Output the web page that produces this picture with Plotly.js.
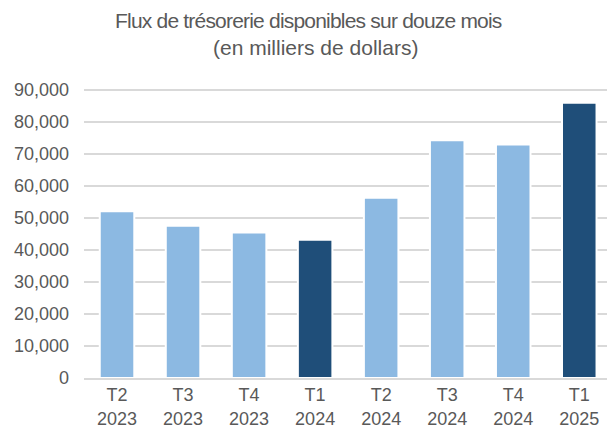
<!DOCTYPE html>
<html>
<head>
<meta charset="utf-8">
<script src="https://cdn.plot.ly/plotly-3.0.1.min.js"></script>
<style>
  html, body { margin: 0; padding: 0; background: #ffffff; overflow: hidden; }
  #chart { width: 607px; height: 426px; }
</style>
</head>
<body>
<div id="chart"></div>
<script>
// ---- data ----
const quarters = ["T2", "T3", "T4", "T1", "T2", "T3", "T4", "T1"];
const years = ["2023", "2023", "2023", "2024", "2024", "2024", "2024", "2025"];
const freeCashFlow = [52100, 47600, 45500, 43200, 56300, 74300, 73000, 86000];
const yTickValues = [0, 10000, 20000, 30000, 40000, 50000, 60000, 70000, 80000, 90000];
const titleLine1 = "Flux de trésorerie disponibles sur douze mois";
const titleLine2 = "(en milliers de dollars)";

// ---- styles ----
const LIGHT = "#8CB9E2";
const DARK = "#1F4E79";
const TEXT = "#595959";
const GRID = "#D9D9D9";

const categories = quarters.map((q, i) => q + "<br>" + years[i]);
const barColors = quarters.map(q => q === "T1" ? DARK : LIGHT);

const trace = {
  type: "bar",
  x: categories,
  y: freeCashFlow,
  marker: { color: barColors, line: { color: "#ffffff", width: 2 } },
  hoverinfo: "none"
};

const layout = {
  width: 607,
  height: 426,
  margin: { l: 84, r: 0, t: 88, b: 48, pad: 0 },
  paper_bgcolor: "#ffffff",
  plot_bgcolor: "#ffffff",
  showlegend: false,
  bargap: 0.477,
  font: { family: "Liberation Sans, Arial, sans-serif", size: 18, color: TEXT },
  xaxis: {
    type: "category",
    range: [-0.5, 7.42],
    showgrid: false,
    zeroline: false,
    showline: true,
    linecolor: GRID,
    linewidth: 1.5,
    layer: "above traces",
    ticks: "",
    ticklabelstandoff: 0,
    tickfont: { family: "Liberation Sans, Arial, sans-serif", size: 18, color: TEXT }
  },
  yaxis: {
    range: [0, 90625],
    tickvals: yTickValues,
    tickformat: ",d",
    showgrid: true,
    gridcolor: GRID,
    gridwidth: 1.5,
    zeroline: false,
    showline: false,
    ticks: "",
    ticklabelstandoff: 14,
    tickfont: { family: "Liberation Sans, Arial, sans-serif", size: 18, color: TEXT }
  },
  annotations: [
    {
      text: "<span style='letter-spacing:-0.8px'>" + titleLine1 + "</span>",
      xref: "paper", yref: "paper",
      x: (308 - 84) / 523, y: (378 - 34) / 290,
      xanchor: "center", yanchor: "bottom",
      showarrow: false,
      font: { family: "Liberation Sans, Arial, sans-serif", size: 21, color: TEXT }
    },
    {
      text: titleLine2,
      xref: "paper", yref: "paper",
      x: (315 - 84) / 523, y: (378 - 61) / 290,
      xanchor: "center", yanchor: "bottom",
      showarrow: false,
      font: { family: "Liberation Sans, Arial, sans-serif", size: 21, color: TEXT }
    }
  ]
};

Plotly.newPlot("chart", [trace], layout, { displayModeBar: false, staticPlot: true });
</script>
</body>
</html>
